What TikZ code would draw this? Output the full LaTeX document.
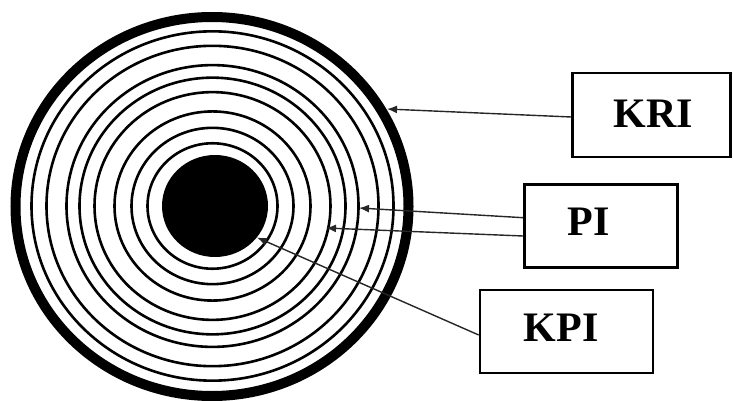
\documentclass[tikz,border=0pt]{standalone}
\usepackage{fontspec}
\setmainfont{Liberation Serif}
\usetikzlibrary{arrows.meta}
\begin{document}
\begin{tikzpicture}[x=1pt,y=-1pt,
  ring/.style={line width=2.6pt},
  boxstyle/.style={draw,line width=2.6pt,rectangle,inner sep=0pt},
  lbl/.style={font=\fontsize{42}{46}\selectfont\bfseries,inner sep=0pt,anchor=center},
  conn/.style={line width=1.4pt,draw=black!85,-{Latex[length=10pt,width=8pt]}}]
\useasboundingbox (0,0) rectangle (733,401);
% rings
\draw[line width=10pt] (212,206.5) ellipse [x radius=196.5, y radius=189.5];
\foreach \r in {181,166,146,133,118,98,81,65}
  \draw[ring] (212.5,206) ellipse [x radius=\r, y radius=0.965*\r];
\fill (215,206) ellipse [x radius=53, y radius=51];
% anchor points on rings
\coordinate (kritip) at (387,109);
\coordinate (pitipa) at (359,208);
\coordinate (pitipb) at (326,228);
\coordinate (kpitip) at (257,237.5);
% boxes
\node[boxstyle,minimum width=158pt,minimum height=84pt] (kri) at (651.5,115) {};
\node[boxstyle,minimum width=153pt,minimum height=83pt] (pi) at (601,225.8) {};
\node[boxstyle,minimum width=173pt,minimum height=83pt] (kpi) at (566.5,331.5) {};
\node[lbl] (krit) at (653,114) {KRI};
\node[lbl] (pit) at (588.5,221.5) {PI};
\node[lbl] (kpit) at (561,327.5) {KPI};
% connectors
\draw[conn] (kri.west |- 0,117) -- (kritip);
\draw[conn] (pi.west |- 0,217.7) -- (pitipa);
\draw[conn] (pi.west |- 0,236) -- (pitipb);
\draw[conn] (kpi.west |- 0,335) -- (kpitip);
\end{tikzpicture}
\end{document}
